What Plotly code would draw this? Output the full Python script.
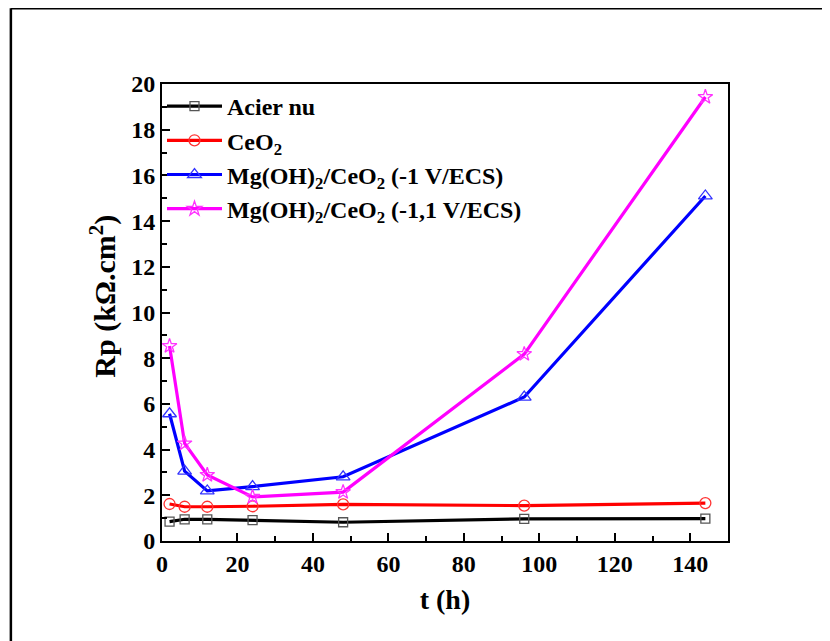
import plotly.graph_objects as go

t_hours = [2, 6, 12, 24, 48, 96, 144]
acier_nu = [0.85, 0.95, 0.95, 0.91, 0.82, 0.97, 0.98]
ceo2 = [1.62, 1.50, 1.50, 1.52, 1.60, 1.55, 1.66]
mg_1v = [5.57, 3.06, 2.19, 2.38, 2.81, 6.30, 15.10]
mg_11v = [8.53, 4.27, 2.89, 1.93, 2.14, 8.18, 19.43]

series_names = ["Acier nu", "CeO<sub>2</sub>",
                "Mg(OH)<sub>2</sub>/CeO<sub>2</sub> (-1 V/ECS)",
                "Mg(OH)<sub>2</sub>/CeO<sub>2</sub> (-1,1 V/ECS)"]
series_values = [acier_nu, ceo2, mg_1v, mg_11v]
line_colors = ["#000000", "#ff0000", "#0000ff", "#ff00ff"]
marker_colors = ["#555555", "#ff3333", "#3333ff", "#ff33ff"]
symbols = ["square-open", "circle-open", "triangle-up-open", "star-open"]
marker_sizes = [9, 11, 12, 11]

FONT = "Liberation Serif, Times New Roman, serif"

fig = go.Figure()
for name, vals, lc, mc, sym, ms in zip(series_names, series_values, line_colors,
                                       marker_colors, symbols, marker_sizes):
    fig.add_trace(go.Scatter(
        x=t_hours, y=vals, name=name, mode="lines+markers",
        line=dict(color=lc, width=3.2),
        marker=dict(symbol=sym, size=ms, color=mc, line=dict(width=1.3, color=mc)),
    ))

axis_common = dict(
    showline=True, linecolor="black", linewidth=2, mirror=True,
    ticks="inside", ticklen=8, tickwidth=2, tickcolor="black",
    showgrid=False, zeroline=False,
    tickfont=dict(family=FONT, size=24, color="black", weight="bold"),
)

fig.update_xaxes(
    range=[0, 150], tick0=0, dtick=20,
    minor=dict(ticks="inside", ticklen=5, tickwidth=1.5, tickcolor="black", dtick=10),
    title=dict(text="<b>t (h)</b>", font=dict(family=FONT, size=28, color="black"),
               standoff=14),
    **axis_common,
)
fig.update_yaxes(
    range=[0, 20], tick0=0, dtick=2,
    minor=dict(ticks="inside", ticklen=5, tickwidth=1.5, tickcolor="black", dtick=1),
    **axis_common,
)

fig.add_annotation(
    text="<b>Rp (kΩ.cm<sup>2</sup>)</b>", textangle=-90,
    xref="paper", yref="paper", x=-0.104, y=0.535,
    xanchor="center", yanchor="middle", showarrow=False,
    font=dict(family=FONT, size=30, color="black"),
)

fig.add_shape(type="line", xref="paper", yref="paper",
              x0=-0.267, x1=1.5, y0=1.166, y1=1.166,
              line=dict(color="black", width=2.5))
fig.add_shape(type="line", xref="paper", yref="paper",
              x0=-0.267, x1=-0.267, y0=1.166, y1=-0.5,
              line=dict(color="black", width=2.5))

fig.update_layout(
    width=830, height=641,
    margin=dict(l=154, r=110, t=76, b=108),
    paper_bgcolor="white", plot_bgcolor="white",
    showlegend=True,
    legend=dict(x=0.0, y=1.0, xanchor="left", yanchor="top",
                bgcolor="rgba(0,0,0,0)", borderwidth=0,
                font=dict(family=FONT, size=24, color="black", weight="bold"),
                tracegroupgap=0, itemwidth=55),
)

fig.write_html("out.html")
